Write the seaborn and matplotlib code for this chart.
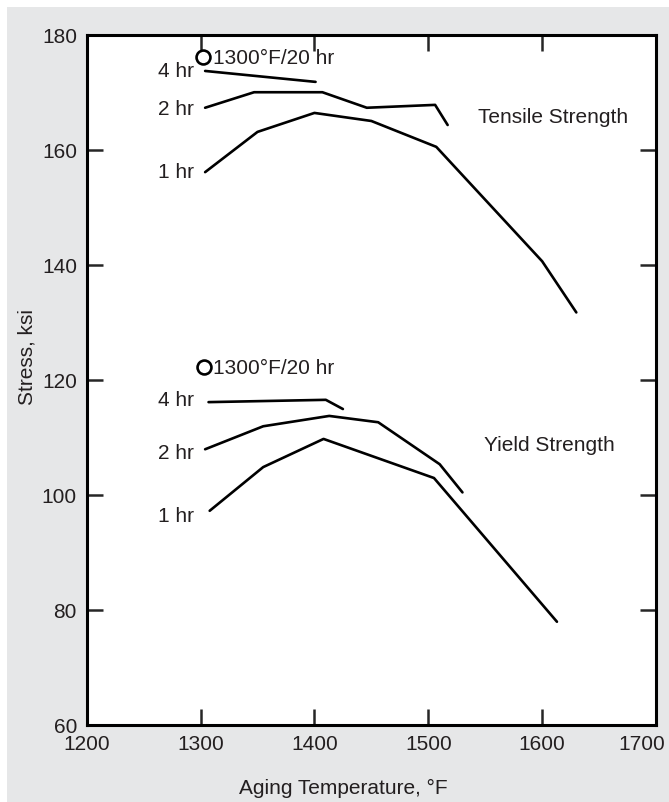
# Aging temperature vs stress (tensile / yield), recreated with seaborn

import matplotlib
matplotlib.use("Agg")
import matplotlib.pyplot as plt
from matplotlib.patches import Rectangle
from matplotlib.transforms import ScaledTranslation
import seaborn as sns

# ---- data ----
tensile_4hr_x = [1304, 1401]
tensile_4hr_y = [173.7, 171.8]
tensile_2hr_x = [1304, 1347, 1407, 1446, 1506, 1517]
tensile_2hr_y = [167.3, 170.0, 170.0, 167.3, 167.8, 164.3]
tensile_1hr_x = [1304, 1350, 1400, 1450, 1507, 1600, 1630]
tensile_1hr_y = [156.1, 163.1, 166.4, 165.0, 160.5, 140.6, 131.7]

yield_4hr_x = [1307, 1410, 1425]
yield_4hr_y = [116.1, 116.5, 114.9]
yield_2hr_x = [1304, 1355, 1413, 1456, 1510, 1530]
yield_2hr_y = [107.9, 111.9, 113.7, 112.6, 105.3, 100.4]
yield_1hr_x = [1308, 1355, 1408, 1505, 1613]
yield_1hr_y = [97.2, 104.8, 109.7, 102.9, 77.9]

point_20hr_x = [1302, 1303]
point_20hr_y = [176.1, 122.2]

hr_labels = ["4 hr", "2 hr", "1 hr", "4 hr", "2 hr", "1 hr"]
hr_label_y = [173.8, 167.1, 156.2, 116.5, 107.3, 96.3]

x_ticks = [1200, 1300, 1400, 1500, 1600, 1700]
y_ticks = [60, 80, 100, 120, 140, 160, 180]

sns.set_style("ticks")
plt.rcParams["font.family"] = ["Liberation Sans", "DejaVu Sans"]

txt = "#231f20"
fs = 15

fig = plt.figure(figsize=(6.69, 8.03), dpi=100, facecolor="white")
# light gray panel behind the chart (thin white border at left/top)
fig.patches.append(Rectangle((7 / 669, 0), 1, 1 - 8 / 803, transform=fig.transFigure,
                             facecolor="#e6e7e8", edgecolor="none", zorder=-10))
ax = fig.add_axes([0.1296, 0.0963, 0.851, 0.8592])
ax.set_zorder(2)
ax.set_facecolor("white")

series = [
    (tensile_4hr_x, tensile_4hr_y), (tensile_2hr_x, tensile_2hr_y), (tensile_1hr_x, tensile_1hr_y),
    (yield_4hr_x, yield_4hr_y), (yield_2hr_x, yield_2hr_y), (yield_1hr_x, yield_1hr_y),
]
for xs, ys in series:
    sns.lineplot(x=xs, y=ys, ax=ax, color="black", linewidth=1.9, sort=False, estimator=None)

sns.scatterplot(x=point_20hr_x, y=point_20hr_y, ax=ax, s=100, marker="o",
                facecolor="white", edgecolor="black", linewidth=1.9, zorder=5)

for lab, yv in zip(hr_labels, hr_label_y):
    ax.text(1294, yv, lab, ha="right", va="center", fontsize=fs, color=txt)
for yv in point_20hr_y:
    ax.text(1311, yv, "1300°F/20 hr", ha="left", va="center", fontsize=fs, color=txt)

ax.text(1610, 165.7, "Tensile Strength", ha="center", va="center", fontsize=fs, color=txt)
ax.text(1606, 108.8, "Yield Strength", ha="center", va="center", fontsize=fs, color=txt)

ax.set_xlim(1200, 1700)
ax.set_ylim(60, 180)
ax.set_xticks(x_ticks)
ax.set_yticks(y_ticks)
ax.set_xticklabels([str(v) for v in x_ticks])
ax.set_yticklabels([str(v) for v in y_ticks])
ax.tick_params(direction="in", length=11.5, width=1.8, top=True, right=True,
               labelsize=fs, labelcolor=txt, pad=7)
for sp in ax.spines.values():
    sp.set_visible(True)
    sp.set_linewidth(2.2)
    sp.set_color("black")

# last x label sits a bit left of the right spine in the original
last = ax.get_xticklabels()[-1]
last.set_transform(last.get_transform() + ScaledTranslation(-0.14, 0, fig.dpi_scale_trans))

ax.set_xlabel("Aging Temperature, °F", fontsize=fs, color=txt)
ax.set_ylabel("Stress, ksi", fontsize=fs, color=txt)
ax.xaxis.set_label_coords(0.451, -0.077)
ax.yaxis.set_label_coords(-0.089, 0.534)

fig.savefig("out.png", dpi=100, facecolor=fig.get_facecolor())
